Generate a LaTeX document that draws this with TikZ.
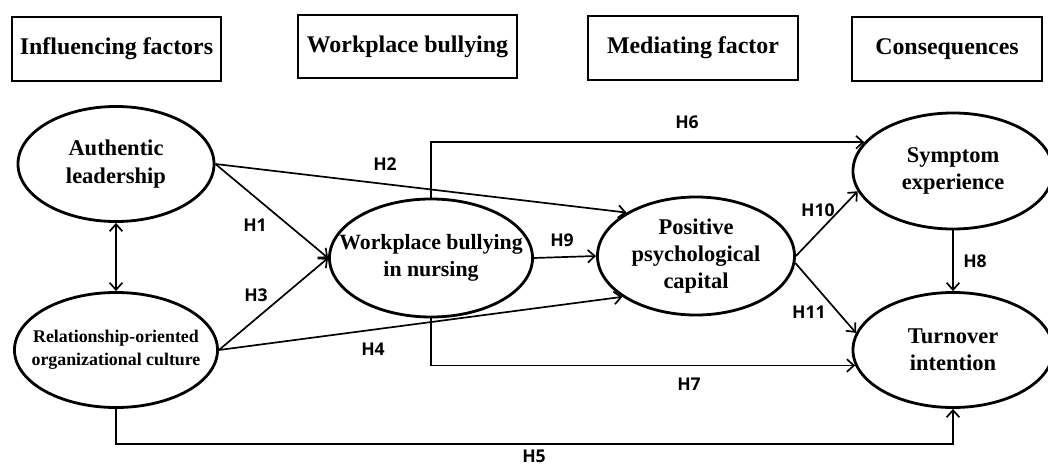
\documentclass[tikz,border=0pt]{standalone}
\usepackage{fontspec}
\setmainfont{Liberation Serif}
\newfontfamily\hypfont{Open Sans}
\usetikzlibrary{shapes.geometric,arrows.meta}

\begin{document}
\begin{tikzpicture}[x=0.025cm,y=-0.025cm]
\tikzset{header/.style = {shape=rectangle,draw,line width=1.6pt,inner sep=0pt,minimum height=1.6cm,font=\fontsize{17}{20}\selectfont\bfseries}}
\tikzset{vertex/.style = {shape=ellipse,draw,line width=2pt,inner xsep=-40pt,inner ysep=-20pt,align=center,font=\fontsize{16}{19.5}\selectfont\bfseries}}
\tikzset{hyp/.style = {inner sep=0pt,font=\hypfont\fontsize{12.5}{14}\selectfont\bfseries}}
\useasboundingbox (0,0) rectangle (1048,467);
% headers
\node[header,minimum width=5.225cm] (f1) at (116.5,49) {Influencing factors};
\node[header,minimum width=5.475cm,minimum height=1.575cm] (f2) at (407.5,46.5) {Workplace bullying};
\node[header,minimum width=5.25cm] (f3) at (693,48) {Mediating factor};
\node[header,minimum width=4.75cm] (f4) at (947,49) {Consequences};

% vertices
\node[vertex,minimum width=4.9cm,minimum height=2.875cm] (al) at (116,164) {Authentic\\leadership};
\node[vertex,minimum width=5.075cm,minimum height=2.875cm,font=\fontsize{12.7}{16.5}\selectfont\bfseries] (roc) at (116,350) {Relationship-oriented\\organizational culture};
\node[vertex,minimum width=5.075cm,minimum height=2.95cm,font=\fontsize{15.5}{19}\selectfont\bfseries] (wb) at (431,258) {Workplace bullying\\in nursing};
\node[vertex,minimum width=4.925cm,minimum height=2.95cm,font=\fontsize{16}{19}\selectfont\bfseries] (pc) at (696,256) {Positive\\psychological\\capital};
\node[vertex,minimum width=5cm,minimum height=2.9cm] (se) at (953,171) {Symptom\\experience};
\node[vertex,minimum width=5cm,minimum height=2.875cm] (ti) at (953,350) {Turnover\\intention};

% edges
\tikzset{edge/.style = {->, > = {Straight Barb[length=5pt,width=9pt]}, line width=1.2pt}}
\draw[edge,<->] (al) to[] (roc);
\draw[edge] (al.east) to[] (wb.west);
\draw[edge] (al.east) to[] (pc.148);
\draw[edge] (roc.east) to[] (wb.west);
\draw[edge] (roc.east) to[] (pc.209);
\draw[edge] (roc.south) -- ++(0,35) -| (ti.south);
\draw[edge] (wb.north) |- (se.162);
\draw[edge] (wb.south) |- (ti.189);
\draw[edge] (se.south) to[] (ti.north);
\draw[edge] (wb.east) to[] (pc.west);
\draw[edge] (pc.east) to[] (se.192);
\draw[edge] (pc.-4) to[] (ti.170);

% labels
\node[hyp] (h1) at (255,225) {H1};
\node[hyp] (h2) at (385,164) {H2};
\node[hyp] (h3) at (256,295) {H3};
\node[hyp] (h4) at (373,349) {H4};
\node[hyp] (h5) at (534,456) {H5};
\node[hyp] (h6) at (687,122) {H6};
\node[hyp] (h7) at (689,384) {H7};
\node[hyp] (h8) at (975,261) {H8};
\node[hyp] (h9) at (562,240) {H9};
\node[hyp] (h10) at (818,210) {H10};
\node[hyp] (h11) at (809,312) {H11};
\end{tikzpicture}
\end{document}
